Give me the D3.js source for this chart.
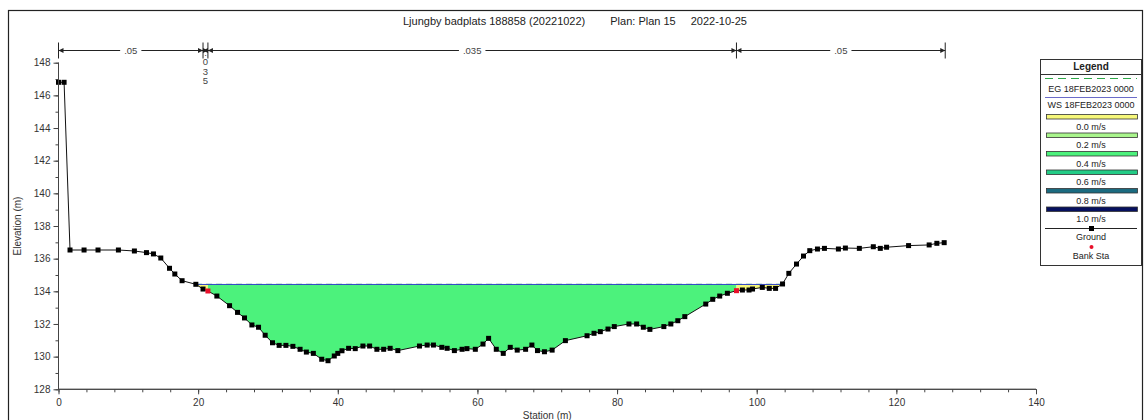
<!DOCTYPE html>
<meta charset="utf-8">
<style>
body { margin: 0; background: white; }
svg { font-family: "Liberation Sans", Arial, sans-serif; }
.axis text { font-size: 10px; fill: #333; }
.axis path, .axis line { stroke: #444; }
</style>
<svg width="1144" height="420"></svg>
<script src="https://d3js.org/d3.v7.min.js"></script>
<script>

var stations = [0, 0.8, 1.65, 3.66, 5.66, 8.58, 10.87, 12.6, 13.6, 14.65, 15.9, 16.66, 17.7, 19.67, 20.7, 21.4,
  22.68, 24.5, 25.64, 26.64, 27.7, 28.65, 29.6, 30.65, 31.6, 32.57, 33.57, 34.6, 35.5, 36.5, 37.7, 38.6,
  39.5, 40.0, 40.6, 41.55, 42.5, 43.6, 44.56, 45.6, 46.57, 47.5, 48.6, 51.7, 52.8, 53.7, 54.9, 55.66,
  56.7, 57.8, 58.5, 59.7, 60.8, 61.6, 62.7, 63.7, 64.7, 65.7, 66.9, 67.8, 68.6, 69.6, 70.7, 72.6,
  75.7, 76.7, 77.6, 78.7, 79.6, 81.7, 82.8, 83.76, 84.7, 86.7, 87.7, 88.7, 89.7, 92.7, 93.7, 94.7,
  95.8, 97.1, 97.95, 98.9, 99.4, 100.8, 101.8, 102.7, 103.7, 104.6, 105.7, 106.7, 107.6, 108.7, 109.7,
  111.7, 112.7, 114.7, 116.7, 117.7, 118.6, 121.75, 124.7, 125.8, 126.85];
var elevations = [146.8, 146.8, 136.53, 136.53, 136.53, 136.53, 136.47, 136.37, 136.29, 136.04, 135.41, 135.06, 134.65, 134.43, 134.14, 134.02,
  133.71, 133.12, 132.71, 132.37, 131.94, 131.8, 131.31, 130.85, 130.69, 130.69, 130.63, 130.45, 130.28, 130.2, 129.84, 129.75,
  130.04, 130.2, 130.36, 130.51, 130.49, 130.65, 130.65, 130.45, 130.45, 130.51, 130.37, 130.65, 130.71, 130.71, 130.57, 130.51,
  130.37, 130.45, 130.49, 130.45, 130.77, 131.12, 130.45, 130.2, 130.57, 130.4, 130.45, 130.71, 130.37, 130.3, 130.4, 130.98,
  131.28, 131.43, 131.53, 131.69, 131.84, 132.0, 132.0, 131.8, 131.67, 131.84, 132.0, 132.2, 132.45, 133.22, 133.51, 133.71,
  133.88, 134.04, 134.08, 134.08, 134.14, 134.24, 134.18, 134.18, 134.45, 135.1, 135.67, 136.16, 136.49, 136.59, 136.63,
  136.59, 136.65, 136.63, 136.73, 136.63, 136.7, 136.8, 136.84, 136.94, 136.98];
var bankStations = [21.4, 97.1];
var wsElev = 134.42;
var egElev = 134.43;

var nBreaks = [0, 20.7, 21.4, 97.1, 127];
var nValues = [".05", ".035", ".035", ".05"];

var legendLines = ["EG 18FEB2023 0000", "WS 18FEB2023 0000"];
var velLabels = ["0.0 m/s", "0.2 m/s", "0.4 m/s", "0.6 m/s", "0.8 m/s", "1.0 m/s"];
var velColors = ["#f6f77a", "#a9f58c", "#4cf27c", "#23cc86", "#1b6b80", "#06105e"];

var title = ["Ljungby badplats 188858 (20221022)", "Plan: Plan 15", "2022-10-25"];
var xTicks = [0, 20, 40, 60, 80, 100, 120, 140];
var yTicks = [128, 130, 132, 134, 136, 138, 140, 142, 144, 146, 148];

var svg = d3.select("svg");
var x = d3.scaleLinear().domain([0, 140]).range([58.5, 1036]),
    y = d3.scaleLinear().domain([128, 148]).range([389.3, 62.7]);

var ground = stations.map(function(s, i) { return {s: s, e: elevations[i]}; });

// outer frame
svg.append("rect").attr("x", 8.5).attr("y", 10.5).attr("width", 1134).attr("height", 430)
    .attr("fill", "none").attr("stroke", "#222").attr("stroke-width", 1.2);

// title
var t = svg.append("text").attr("x", 575).attr("y", 25).attr("text-anchor", "middle")
    .style("font-size", "11px").attr("fill", "#222");
t.append("tspan").text(title[0]);
t.append("tspan").attr("dx", 25).text(title[1]);
t.append("tspan").attr("dx", 15).text(title[2]);

// water polygon with crossing points inserted
function wetPoints(lo, hi) {
  var pts = [];
  for (var i = 0; i < ground.length - 1; i++) {
    var a = ground[i], b = ground[i + 1];
    if (a.s >= lo && a.s <= hi && a.e < wsElev) pts.push(a);
    if ((a.e - wsElev) * (b.e - wsElev) < 0) {
      var f = (wsElev - a.e) / (b.e - a.e), sc = a.s + f * (b.s - a.s);
      if (sc >= lo && sc <= hi) pts.push({s: sc, e: wsElev});
    }
  }
  return pts;
}
var area = d3.area().x(function(d) { return x(d.s); })
    .y0(function(d) { return y(d.e); }).y1(y(wsElev));
svg.append("path").datum(wetPoints(0, bankStations[0])).attr("d", area).attr("fill", velColors[0]);
svg.append("path").datum(wetPoints(bankStations[0], bankStations[1])).attr("d", area).attr("fill", velColors[2]);
svg.append("path").datum(wetPoints(bankStations[1], 140)).attr("d", area).attr("fill", velColors[0]);

var wet = wetPoints(0, 140);
var ws0 = wet[0].s, ws1 = wet[wet.length - 1].s;
svg.append("line").attr("x1", x(ws0)).attr("x2", x(ws1)).attr("y1", y(egElev)).attr("y2", y(egElev))
    .attr("stroke", "#2fa84a").attr("stroke-dasharray", "6,4");
svg.append("line").attr("x1", x(ws0)).attr("x2", x(ws1)).attr("y1", y(wsElev)).attr("y2", y(wsElev))
    .attr("stroke", "#3346c8").attr("stroke-width", 1);

// ground
svg.append("path").datum(ground)
    .attr("d", d3.line().x(function(d) { return x(d.s); }).y(function(d) { return y(d.e); }))
    .attr("fill", "none").attr("stroke", "#111").attr("stroke-width", 1);
svg.selectAll(".pt").data(ground).enter().append("rect")
    .attr("x", function(d) { return x(d.s) - 2.5; })
    .attr("y", function(d) { return y(d.e) - 2.5; })
    .attr("width", 5).attr("height", 5)
    .attr("fill", function(d) { return bankStations.indexOf(d.s) >= 0 ? "#e8102a" : "#000"; });

// axes
var gx = svg.append("g").attr("class", "axis").attr("transform", "translate(0," + y(128) + ")");
gx.call(d3.axisBottom(x).tickValues(d3.range(0, 141, 4)).tickSize(3).tickFormat(""));
gx.append("g").call(d3.axisBottom(x).tickValues(xTicks).tickSize(5))
    .selectAll("text").attr("dy", "0.9em");
gx.selectAll(".domain").attr("d", "M" + x(0) + ",0H" + x(140));

var gy = svg.append("g").attr("class", "axis").attr("transform", "translate(" + x(0) + ",0)");
gy.call(d3.axisLeft(y).tickValues(d3.range(128, 149, 1)).tickSize(3).tickFormat(""));
gy.append("g").call(d3.axisLeft(y).tickValues(yTicks).tickSize(5));
gy.selectAll(".domain").attr("d", "M0," + y(128) + "V" + y(148));

svg.append("text").attr("x", x(70)).attr("y", 419).attr("text-anchor", "middle")
    .style("font-size", "10px").attr("fill", "#333").text("Station (m)");
svg.append("text").attr("transform", "translate(21," + y(138) + ") rotate(-90)")
    .attr("text-anchor", "middle").style("font-size", "10px").attr("fill", "#333").text("Elevation (m)");

// manning's n bar
var nY = 50.5;
var ng = svg.append("g");
ng.append("line").attr("x1", x(nBreaks[0])).attr("x2", x(nBreaks[nBreaks.length - 1]))
    .attr("y1", nY).attr("y2", nY).attr("stroke", "#222");
ng.selectAll(".ntick").data(nBreaks).enter().append("line")
    .attr("x1", function(d) { return x(d); }).attr("x2", function(d) { return x(d); })
    .attr("y1", nY - 8).attr("y2", nY + 8).attr("stroke", "#222");
nValues.forEach(function(v, i) {
  var a = x(nBreaks[i]), b = x(nBreaks[i + 1]), c = (a + b) / 2;
  ng.append("path").attr("d", "M" + a + "," + nY + "l5,-2.5v5z").attr("fill", "#222");
  ng.append("path").attr("d", "M" + b + "," + nY + "l-5,-2.5v5z").attr("fill", "#222");
  if (b - a > 30) {
    var bg = ng.append("rect").attr("fill", "white");
    var lab = ng.append("text").attr("x", c).attr("y", nY + 3.5).attr("text-anchor", "middle")
        .style("font-size", "9.5px").attr("fill", "#444").text(v);
    var bb = lab.node().getBBox();
    bg.attr("x", bb.x - 4).attr("y", nY - 3).attr("width", bb.width + 8).attr("height", 6);
  } else {
    v.split("").forEach(function(ch, k) {
      ng.append("text").attr("x", c).attr("y", 56 + k * 9.3).attr("text-anchor", "middle")
          .style("font-size", "9.5px").attr("fill", "#444").text(ch);
    });
  }
});

// legend
var lg = svg.append("g").attr("transform", "translate(1040,59)");
lg.append("rect").attr("x", 0.5).attr("y", 0.5).attr("width", 101).attr("height", 206)
    .attr("fill", "white").attr("stroke", "#333");
lg.append("text").attr("x", 51).attr("y", 11).attr("text-anchor", "middle")
    .style("font-size", "10px").style("font-weight", "bold").attr("fill", "#222").text("Legend");
lg.append("line").attr("x1", 0).attr("x2", 101).attr("y1", 15.5).attr("y2", 15.5).attr("stroke", "#333");
lg.append("line").attr("x1", 5).attr("x2", 97).attr("y1", 19.5).attr("y2", 19.5)
    .attr("stroke", "#2fa84a").attr("stroke-dasharray", "8,5");
lg.append("text").attr("x", 51).attr("y", 33).attr("text-anchor", "middle")
    .style("font-size", "9px").attr("fill", "#222").text(legendLines[0]);
lg.append("line").attr("x1", 5).attr("x2", 97).attr("y1", 38.5).attr("y2", 38.5).attr("stroke", "#6b6bc8");
lg.append("text").attr("x", 51).attr("y", 49).attr("text-anchor", "middle")
    .style("font-size", "9px").attr("fill", "#222").text(legendLines[1]);
velLabels.forEach(function(l, i) {
  var yy = 55 + i * 18.5;
  lg.append("rect").attr("x", 6.5).attr("y", yy + 0.5).attr("width", 91).attr("height", 4.5)
      .attr("fill", velColors[i]).attr("stroke", "#333").attr("stroke-width", 0.8);
  lg.append("text").attr("x", 51).attr("y", yy + 15.5).attr("text-anchor", "middle")
      .style("font-size", "9px").attr("fill", "#222").text(l);
});
lg.append("line").attr("x1", 5).attr("x2", 97).attr("y1", 169.5).attr("y2", 169.5).attr("stroke", "#222");
lg.append("rect").attr("x", 49).attr("y", 167).attr("width", 5).attr("height", 5).attr("fill", "#000");
lg.append("text").attr("x", 51).attr("y", 181).attr("text-anchor", "middle")
    .style("font-size", "9px").attr("fill", "#222").text("Ground");
lg.append("circle").attr("cx", 51.5).attr("cy", 188).attr("r", 2).attr("fill", "#e8102a");
lg.append("text").attr("x", 51).attr("y", 200).attr("text-anchor", "middle")
    .style("font-size", "9px").attr("fill", "#222").text("Bank Sta");

</script>
